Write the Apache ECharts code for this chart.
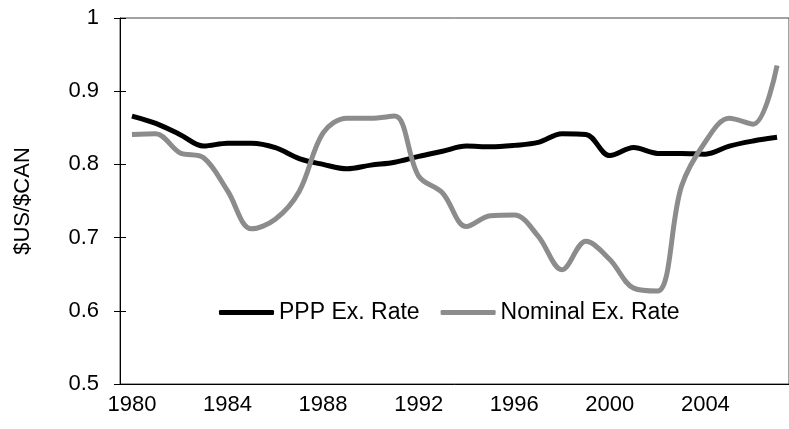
<!DOCTYPE html>
<html>
<head>
    <meta charset="utf-8" />
    <title>PPP vs Nominal</title>
    <script src="https://cdn.jsdelivr.net/npm/echarts@6/dist/echarts.min.js"></script>
</head>
<body style="margin:0">
    <div id="main" style="width:789px;height:429px;"></div>
    <script type="text/javascript">
        var years = ['1980', '1981', '1982', '1983', '1984', '1985', '1986', '1987', '1988', '1989',
            '1990', '1991', '1992', '1993', '1994', '1995', '1996', '1997', '1998', '1999',
            '2000', '2001', '2002', '2003', '2004', '2005', '2006', '2007'];
        var pppRate = [0.866, 0.856, 0.841, 0.825, 0.829, 0.829, 0.823, 0.808, 0.800, 0.794,
            0.799, 0.803, 0.811, 0.818, 0.825, 0.824, 0.826, 0.830, 0.842, 0.841,
            0.812, 0.823, 0.815, 0.815, 0.814, 0.825, 0.832, 0.837];
        var nominalRate = [0.841, 0.842, 0.816, 0.809, 0.764, 0.712, 0.725, 0.763, 0.843, 0.863,
            0.863, 0.866, 0.784, 0.761, 0.715, 0.730, 0.731, 0.702, 0.656, 0.695,
            0.670, 0.631, 0.627, 0.770, 0.831, 0.863, 0.855, 0.935];

        var myChart = echarts.init(document.getElementById('main'));
        var font = 'Liberation Sans, Arial, sans-serif';

        var option = {
            animation: false,
            textStyle: { fontFamily: font },
            grid: {
                left: 120,
                right: -12,
                top: 18,
                bottom: 45,
                show: true,
                borderColor: '#444',
                borderWidth: 1
            },
            legend: {
                left: 214,
                top: 296,
                itemWidth: 55,
                itemHeight: 5,
                itemGap: 21,
                icon: 'roundRect',
                textStyle: { fontSize: 23, color: '#000', fontFamily: font },
                data: ['PPP Ex. Rate', 'Nominal Ex. Rate']
            },
            xAxis: [
                {
                    type: 'category',
                    data: years,
                    boundaryGap: true,
                    axisLine: { lineStyle: { color: '#000', width: 1 } },
                    axisTick: { interval: 0, length: 7, lineStyle: { color: '#000' } },
                    axisLabel: { interval: 3, margin: 10, fontSize: 22, color: '#000', fontFamily: font },
                    splitLine: { show: false }
                },
                {
                    type: 'category',
                    data: years,
                    position: 'bottom',
                    boundaryGap: true,
                    axisLine: { show: false },
                    axisTick: { interval: 0, inside: true, length: 5, lineStyle: { color: '#000' } },
                    axisLabel: { show: false },
                    splitLine: { show: false }
                }
            ],
            yAxis: [
                {
                    type: 'value',
                    min: 0.5,
                    max: 1,
                    interval: 0.1,
                    name: '$US/$CAN',
                    nameLocation: 'middle',
                    nameGap: 86,
                    nameRotate: 90,
                    nameTextStyle: { fontSize: 22, color: '#000', fontFamily: font },
                    axisLine: { show: true, lineStyle: { color: '#000', width: 1 } },
                    axisTick: { show: true, length: 6, lineStyle: { color: '#000' } },
                    axisLabel: {
                        margin: 21, fontSize: 22, color: '#000', fontFamily: font,
                        formatter: function (v) { return String(+v.toFixed(1)); }
                    },
                    splitLine: { show: false }
                },
                {
                    type: 'value',
                    min: 0.5,
                    max: 1,
                    interval: 0.1,
                    position: 'left',
                    axisLine: { show: false },
                    axisTick: { show: true, inside: true, length: 6, lineStyle: { color: '#000' } },
                    axisLabel: { show: false },
                    splitLine: { show: false }
                }
            ],
            series: [
                {
                    name: 'PPP Ex. Rate',
                    type: 'line',
                    data: pppRate,
                    smooth: 0.35,
                    symbol: 'none',
                    color: '#000',
                    lineStyle: { color: '#000', width: 5 }
                },
                {
                    name: 'Nominal Ex. Rate',
                    type: 'line',
                    data: nominalRate,
                    smooth: 0.35,
                    symbol: 'none',
                    color: '#8c8c8c',
                    lineStyle: { color: '#8c8c8c', width: 5 }
                }
            ]
        };

        myChart.setOption(option);
    </script>
</body>
</html>
